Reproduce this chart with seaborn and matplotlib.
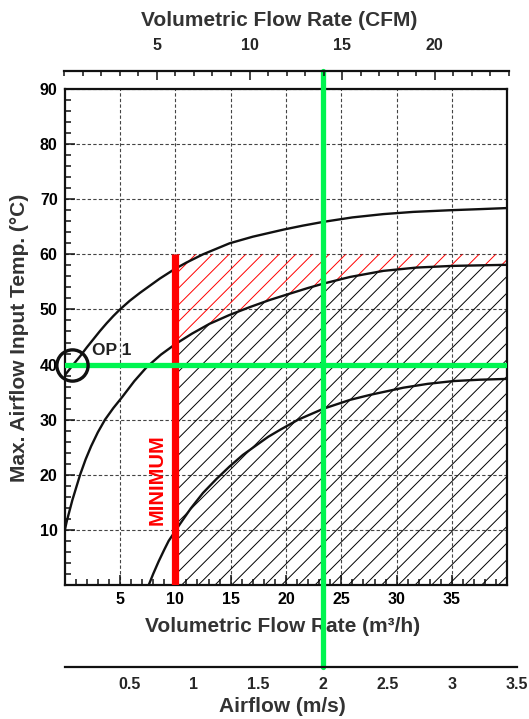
import matplotlib
matplotlib.use("Agg")
import matplotlib.pyplot as plt
from matplotlib.ticker import MultipleLocator
import seaborn as sns
import numpy as np

# derating curves (flow in m3/h, max input temp in degC)
upper_flow = [0.0, 0.7, 1.4, 2.0, 2.6, 3.2, 3.8, 4.4, 5.0, 5.9, 6.8, 7.7, 8.6, 9.3, 10.0, 11.0,
              12.5, 14.9, 17.0, 19.8, 21.5, 23.4, 26.0, 28.8, 31.5, 34.8, 37.5, 40.0]
upper_temp = [38.0, 39.8, 41.5, 43.1, 44.6, 46.1, 47.5, 48.8, 50.0, 51.6, 53.0, 54.3, 55.6, 56.5, 57.4, 58.5,
              60.0, 62.0, 63.2, 64.5, 65.2, 65.9, 66.7, 67.3, 67.7, 68.0, 68.2, 68.4]

middle_flow = [0.0, 0.2, 0.7, 1.4, 1.9, 2.4, 3.0, 3.65, 4.4, 5.2, 6.3, 7.4, 8.7, 10.0, 11.5, 13.1,
               14.9, 16.7, 18.5, 20.4, 22.0, 23.4, 25.8, 28.8, 31.8, 35.0, 40.0]
middle_temp = [9.8, 11.6, 15.4, 20.0, 22.8, 25.2, 27.7, 30.0, 32.1, 34.1, 37.0, 39.5, 41.8, 43.7, 45.6, 47.4,
               49.0, 50.4, 51.7, 52.9, 53.9, 54.7, 55.9, 57.0, 57.6, 57.9, 58.1]

lower_flow = [7.6, 8.0, 8.5, 9.0, 9.4, 10.4, 11.4, 12.5, 13.7, 14.9, 16.1, 17.35, 18.4, 19.5, 21.1,
              23.4, 25.8, 27.6, 30.6, 32.8, 35.1, 37.5, 40.0]
lower_temp = [0.0, 2.0, 4.3, 6.4, 8.0, 11.0, 13.9, 16.7, 19.2, 21.5, 23.6, 25.4, 26.9, 28.2, 30.0,
              32.0, 33.6, 34.5, 35.8, 36.5, 37.0, 37.25, 37.4]

min_flow = 10        # minimum flow, m3/h
max_temp = 60        # upper limit of allowed zone
op_flow = 23.3       # operating point flow (2 m/s)
op_temp = 40
op_circle_flow = 0.7
op_text_flow = 2.45
op_text_temp = 42.6

flow_ticks = [5, 10, 15, 20, 25, 30, 35]
temp_ticks = [10, 20, 30, 40, 50, 60, 70, 80, 90]
cfm_ticks = [5, 10, 15, 20]
airflow_ticks = [0.5, 1, 1.5, 2, 2.5, 3, 3.5]
airflow_labels = ["0.5", "1", "1.5", "2", "2.5", "3", "3.5"]

GREEN = "#00f550"
INK = "#111111"
LABEL = "#333333"

sns.set_theme(style="white")
plt.rcParams["font.family"] = ["Liberation Sans", "DejaVu Sans"]
plt.rcParams["font.weight"] = "bold"
plt.rcParams["hatch.linewidth"] = 0.7

W, H = 529, 719
fig = plt.figure(figsize=(W / 100, H / 100), dpi=100)
fig.patch.set_facecolor("white")

# main chart
ax = fig.add_axes([64.6 / W, 1 - 585 / H, (507.4 - 64.6) / W, (585 - 89) / H])
ax.set_xlim(0, 40)
ax.set_ylim(0, 90)

mid_f = np.array(middle_flow)
mid_t = np.array(middle_temp)
keep = mid_f >= min_flow
ax.fill_between(mid_f[keep], 0, mid_t[keep], facecolor="none", edgecolor="black",
                hatch="//", linewidth=0, zorder=1)
ax.fill_between(mid_f[keep], mid_t[keep], max_temp, facecolor="none", edgecolor="red",
                hatch="//", linewidth=0, zorder=1)

for fx, ty in [(upper_flow, upper_temp), (middle_flow, middle_temp), (lower_flow, lower_temp)]:
    sns.lineplot(x=fx, y=ty, ax=ax, color=INK, linewidth=1.7, estimator=None, sort=False, zorder=3)

ax.vlines(min_flow, 0, max_temp, color="red", linewidth=5.2, zorder=4)
ax.axhline(op_temp, color=GREEN, linewidth=3.8, zorder=5)
# vertical operating line runs from the m/s scale up to the CFM scale
ax.axvline(op_flow, ymin=-0.166, ymax=1.037, color=GREEN, linewidth=3.8, clip_on=False, zorder=5)

ax.plot(op_circle_flow, op_temp, marker="o", ms=22.5, mfc="none", mec=INK, mew=2.4,
        clip_on=False, zorder=6)
ax.text(op_text_flow, op_text_temp, "OP 1", fontsize=12.5, fontweight="bold", color="#222222",
        ha="left", va="center")
ax.text(8.4, 19.1, "MINIMUM", rotation=90, fontsize=14.5, fontweight="bold", color="red",
        ha="center", va="center")

ax.set_xticks(flow_ticks)
ax.set_yticks(temp_ticks)
ax.xaxis.set_minor_locator(MultipleLocator(1))
ax.yaxis.set_minor_locator(MultipleLocator(2))
ax.tick_params(axis="both", which="major", direction="in", length=7.5, width=1.1, color=INK,
               labelsize=11.5, labelcolor="black", pad=5, bottom=True, left=True)
ax.tick_params(axis="both", which="minor", direction="in", length=4, width=1.1, color=INK,
               bottom=True, left=True)
ax.grid(True, which="major", linestyle=(0, (3, 2)), color="#444444", linewidth=0.8)
ax.set_axisbelow(True)
for s in ax.spines.values():
    s.set_linewidth(1.6)
    s.set_color(INK)

ax.set_xlabel("Volumetric Flow Rate (m³/h)", fontsize=15, fontweight="bold", color=LABEL, va="center")
ax.xaxis.set_label_coords(282.5 / W, 1 - 626.7 / H, transform=fig.transFigure)
ax.set_ylabel("Max. Airflow Input Temp. (°C)", fontsize=15, fontweight="bold", color=LABEL,
              va="center", ha="center")
ax.yaxis.set_label_coords(20 / W, 1 - 337.4 / H, transform=fig.transFigure)

# CFM scale on top
cax = fig.add_axes([64.2 / W, 1 - 70.7 / H, (509 - 64.2) / W, 1e-4])
cax.set_xlim(0, 24)
cax.set_yticks([])
for side in ["left", "right", "bottom"]:
    cax.spines[side].set_visible(False)
cax.spines["top"].set_linewidth(1.6)
cax.spines["top"].set_color(INK)
cax.xaxis.tick_top()
cax.set_xticks(cfm_ticks)
cax.xaxis.set_minor_locator(MultipleLocator(1))
cax.tick_params(axis="x", which="major", direction="in", length=6.2, width=1.1, color=INK,
                labelsize=11.5, pad=12.5)
cax.tick_params(axis="x", which="minor", direction="in", length=3.8, width=1.1, color=INK)
cax.xaxis.set_label_position("top")
cax.set_xlabel("Volumetric Flow Rate (CFM)", fontsize=15, fontweight="bold", color=LABEL, va="center")
cax.xaxis.set_label_coords(279 / W, 1 - 20 / H, transform=fig.transFigure)
cax.patch.set_alpha(0)

# air speed scale at the bottom
aax = fig.add_axes([64.6 / W, 1 - 667.3 / H, (516.7 - 64.6) / W, 1e-4])
aax.set_xlim(0, 3.5)
aax.set_yticks([])
for side in ["left", "right", "top"]:
    aax.spines[side].set_visible(False)
aax.spines["bottom"].set_linewidth(1.6)
aax.spines["bottom"].set_color(INK)
aax.set_xticks(airflow_ticks)
aax.set_xticklabels(airflow_labels)
aax.tick_params(axis="x", which="major", direction="in", length=7.7, width=1.1, color=INK,
                labelsize=11.5, pad=7)
aax.set_xlabel("Airflow (m/s)", fontsize=15, fontweight="bold", color=LABEL, va="center")
aax.xaxis.set_label_coords(282.5 / W, 1 - 706.7 / H, transform=fig.transFigure)
aax.patch.set_alpha(0)

fig.savefig("out.png", dpi=100)
